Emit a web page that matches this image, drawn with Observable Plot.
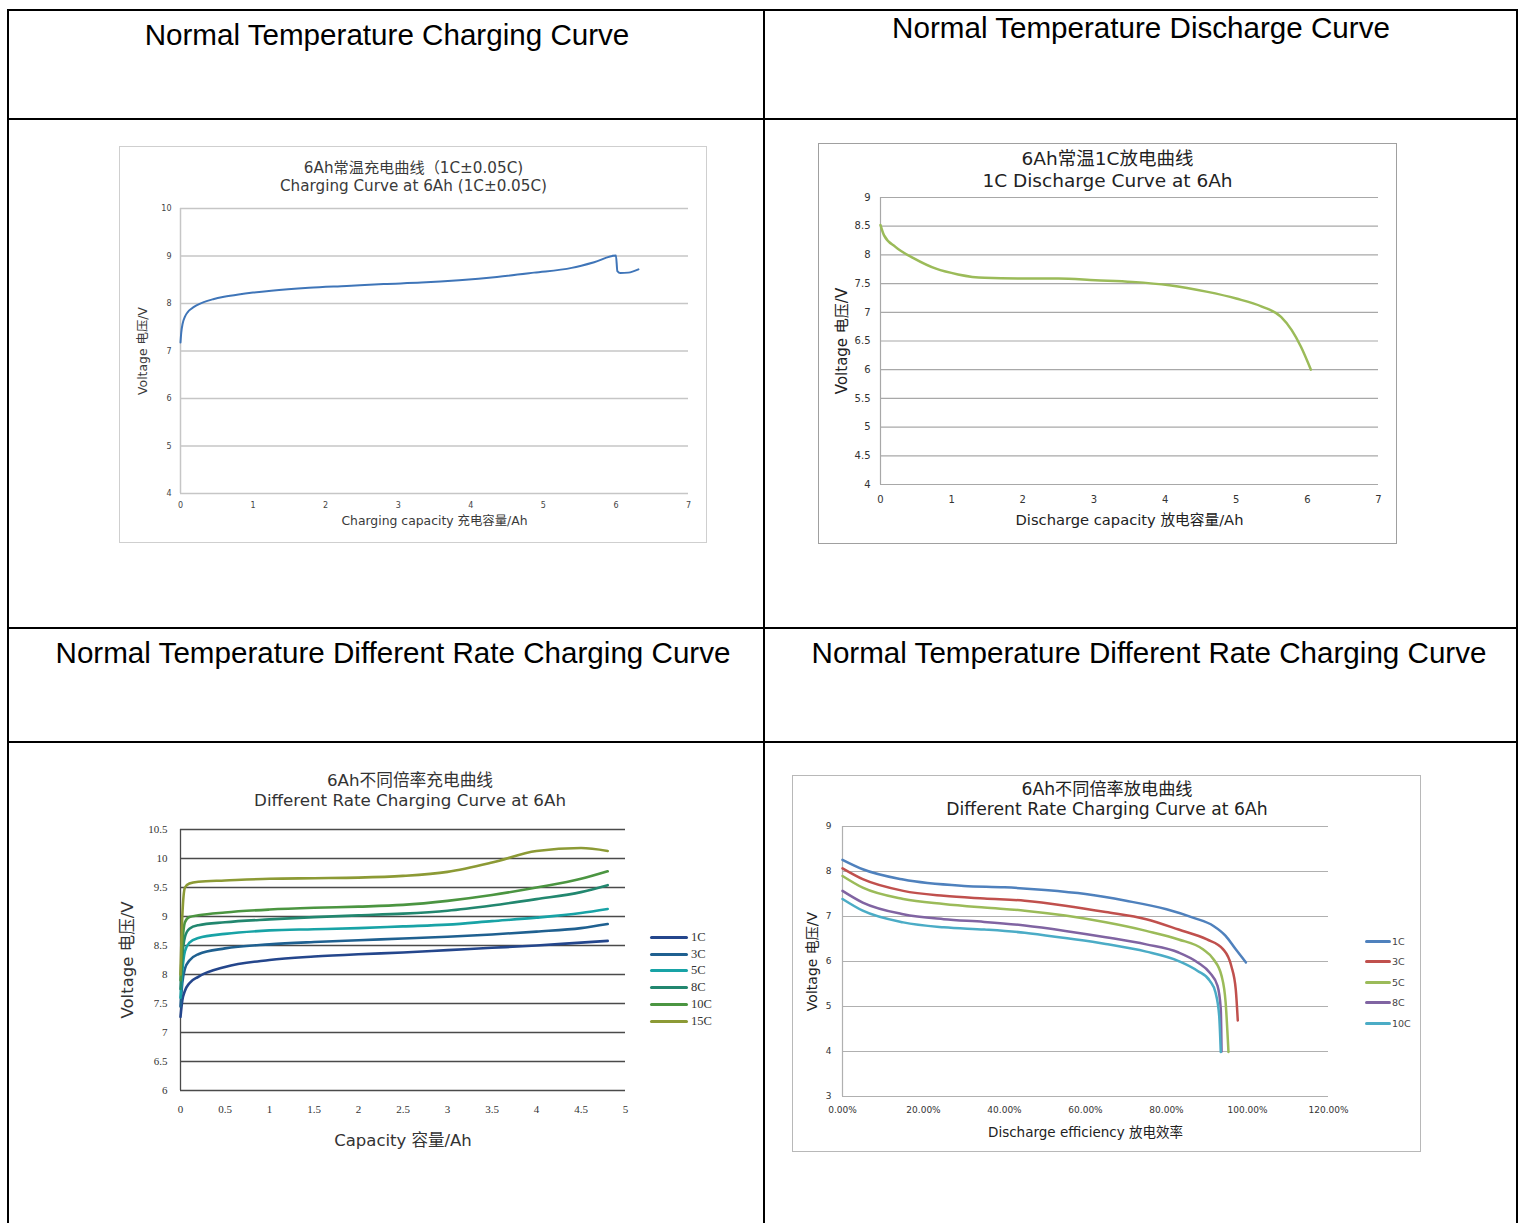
<!DOCTYPE html>
<html>
<head>
<meta charset="utf-8">
<script src="https://cdn.jsdelivr.net/npm/d3@7"></script>
<script src="https://cdn.jsdelivr.net/npm/@observablehq/plot@0.6"></script>
<style>
  body { margin: 0; background: #fff; }
  #page { position: relative; width: 1521px; height: 1223px; overflow: hidden; background: #fff;
          font-family: "Liberation Sans", Arial, sans-serif; }
  .bar { position: absolute; background: #000; }
  .cap { position: absolute; font-size: 29.6px; line-height: 34px; height: 34px; white-space: nowrap;
         text-align: center; color: #000; }
  .chart { position: absolute; }
  .chart svg { display: block; }
  .framed { outline: 1.5px solid #c8c8c8; }
  .legend { position: absolute; }
  .legend .item { display: flex; align-items: center; white-space: nowrap; }
  .legend .sw { display: inline-block; }
</style>
</head>
<body>
<div id="page">
  <div class="bar" style="left:7px;top:9px;width:1511px;height:2px"></div>
  <div class="bar" style="left:7px;top:118px;width:1511px;height:2px"></div>
  <div class="bar" style="left:7px;top:627px;width:1511px;height:2px"></div>
  <div class="bar" style="left:7px;top:741px;width:1511px;height:2px"></div>
  <div class="bar" style="left:7px;top:9px;width:2px;height:1214px"></div>
  <div class="bar" style="left:763px;top:9px;width:2px;height:1214px"></div>
  <div class="bar" style="left:1516px;top:9px;width:2px;height:1214px"></div>
</div>
<script>
// ---------- table captions ----------
const cellTitles = [
  "Normal Temperature Charging Curve",
  "Normal Temperature Discharge Curve",
  "Normal Temperature Different Rate Charging Curve",
  "Normal Temperature Different Rate Charging Curve"
];

// ---------- chart 1: charging curve ----------
const c1TitleCN = "6Ah常温充电曲线（1C±0.05C)";
const c1TitleEN = "Charging Curve at 6Ah (1C±0.05C)";
const c1XLabel = "Charging capacity 充电容量/Ah";
const c1YLabel = "Voltage 电压/V";
const c1XTicks = [0, 1, 2, 3, 4, 5, 6, 7];
const c1YTicks = [4, 5, 6, 7, 8, 9, 10];
const c1Cap = [0, 0.01, 0.03, 0.06, 0.1, 0.15, 0.22, 0.32, 0.45, 0.6, 0.8, 1.0, 1.25, 1.77, 2.29, 2.8, 3.32, 3.84, 4.36, 4.87, 5.39, 5.7, 6.0, 6.02, 6.06, 6.17, 6.31];
const c1Volt = [7.18, 7.38, 7.58, 7.72, 7.82, 7.89, 7.96, 8.03, 8.09, 8.14, 8.19, 8.23, 8.27, 8.33, 8.37, 8.41, 8.44, 8.49, 8.56, 8.65, 8.75, 8.87, 9.01, 8.68, 8.64, 8.65, 8.72];

// ---------- chart 2: 1C discharge ----------
const c2TitleCN = "6Ah常温1C放电曲线";
const c2TitleEN = "1C Discharge Curve at 6Ah";
const c2XLabel = "Discharge capacity 放电容量/Ah";
const c2YLabel = "Voltage 电压/V";
const c2XTicks = [0, 1, 2, 3, 4, 5, 6, 7];
const c2YTicks = [4, 4.5, 5, 5.5, 6, 6.5, 7, 7.5, 8, 8.5, 9];
const c2Cap = [0, 0.05, 0.21, 0.47, 0.78, 1.09, 1.46, 1.98, 2.5, 3.02, 3.54, 4.06, 4.58, 5.0, 5.36, 5.63, 5.78, 5.91, 6.05];
const c2Volt = [8.52, 8.34, 8.14, 7.94, 7.76, 7.66, 7.6, 7.59, 7.59, 7.56, 7.53, 7.47, 7.36, 7.24, 7.1, 6.92, 6.69, 6.4, 6.0];

// ---------- chart 3: different rate charging ----------
const c3TitleCN = "6Ah不同倍率充电曲线";
const c3TitleEN = "Different Rate Charging Curve at 6Ah";
const c3XLabel = "Capacity 容量/Ah";
const c3YLabel = "Voltage 电压/V";
const c3XTicks = [0, 0.5, 1, 1.5, 2, 2.5, 3, 3.5, 4, 4.5, 5];
const c3YTicks = [6, 6.5, 7, 7.5, 8, 8.5, 9, 9.5, 10, 10.5];
const c3Rates = ["1C", "3C", "5C", "8C", "10C", "15C"];
const c3Cap = [0, 0.02, 0.05, 0.1, 0.2, 0.5, 1, 1.5, 2, 2.5, 3, 3.5, 4, 4.5, 4.8];
const c3V1C  = [7.27, 7.55, 7.72, 7.85, 7.96, 8.13, 8.25, 8.31, 8.35, 8.38, 8.42, 8.46, 8.5, 8.55, 8.58];
const c3V3C  = [7.45, 7.85, 8.1, 8.24, 8.35, 8.45, 8.52, 8.56, 8.59, 8.62, 8.65, 8.69, 8.74, 8.8, 8.87];
const c3V5C  = [7.6, 8.05, 8.4, 8.55, 8.63, 8.7, 8.76, 8.78, 8.8, 8.83, 8.86, 8.92, 8.98, 9.06, 9.13];
const c3V8C  = [7.75, 8.3, 8.65, 8.79, 8.85, 8.9, 8.95, 8.99, 9.02, 9.05, 9.1, 9.19, 9.3, 9.42, 9.54];
const c3V10C = [7.9, 8.5, 8.9, 8.99, 9.02, 9.07, 9.12, 9.15, 9.17, 9.2, 9.27, 9.37, 9.5, 9.65, 9.78];
const c3V15C = [8.0, 9.0, 9.5, 9.57, 9.6, 9.62, 9.65, 9.66, 9.67, 9.7, 9.77, 9.93, 10.13, 10.18, 10.13];
const c3Colors = ["#24468c", "#1f6090", "#18a3a6", "#22876f", "#4b9541", "#8c9a35"];

// ---------- chart 4: different rate discharge ----------
const c4TitleCN = "6Ah不同倍率放电曲线";
const c4TitleEN = "Different Rate Charging Curve at 6Ah";
const c4XLabel = "Discharge efficiency 放电效率";
const c4YLabel = "Voltage 电压/V";
const c4XTicks = [0, 20, 40, 60, 80, 100, 120];
const c4YTicks = [3, 4, 5, 6, 7, 8, 9];
const c4Rates = ["1C", "3C", "5C", "8C", "10C"];
const c4E1C  = [0, 5, 15, 30, 40, 50, 60, 70, 80, 86.7, 91.6, 94.6, 97.1, 99.6];
const c4V1C  = [8.26, 8.05, 7.82, 7.68, 7.65, 7.59, 7.5, 7.35, 7.16, 6.97, 6.79, 6.57, 6.27, 5.98];
const c4E3C  = [0, 5, 15, 25, 35, 45, 55, 65, 75, 83, 90, 94, 96, 97.1, 97.6];
const c4V3C  = [8.07, 7.83, 7.57, 7.46, 7.4, 7.35, 7.24, 7.1, 6.94, 6.71, 6.49, 6.27, 5.9, 5.38, 4.69];
const c4E5C  = [0, 5, 15, 25, 35, 45, 55, 65, 75, 83, 89, 91.6, 93.6, 94.6, 95.3];
const c4V5C  = [7.9, 7.64, 7.39, 7.28, 7.2, 7.13, 7.02, 6.87, 6.68, 6.49, 6.27, 6.05, 5.68, 5.09, 3.99];
const c4E8C  = [0, 5, 15, 25, 35, 45, 55, 65, 75, 83, 87.7, 90.7, 92.6, 93.4, 93.6];
const c4V8C  = [7.57, 7.31, 7.05, 6.94, 6.88, 6.8, 6.68, 6.54, 6.38, 6.2, 5.98, 5.75, 5.46, 4.95, 4.0];
const c4E10C = [0, 5, 15, 25, 35, 45, 55, 65, 75, 83, 87.7, 90.7, 92.1, 93.0, 93.4];
const c4V10C = [7.39, 7.13, 6.87, 6.76, 6.71, 6.64, 6.52, 6.39, 6.22, 6.01, 5.79, 5.57, 5.31, 4.8, 3.99];
const c4Colors = ["#4f81bd", "#c0504d", "#9bbb59", "#8064a2", "#4bacc6"];

// ---------- helpers ----------
const page = document.getElementById("page");
const SANS = '"DejaVu Sans","Noto Sans CJK SC",sans-serif';
const plain = d => String(d);
const zip = (xs, ys) => xs.map((x, i) => ({x, y: ys[i]}));
const tidy = (names, xsList, ysList) => names.flatMap((n, k) => xsList[k].map((x, i) => ({s: n, x, y: ysList[k][i]})));

function caption(text, left, width, top) {
  const d = document.createElement("div");
  d.className = "cap";
  d.style.left = left + "px"; d.style.width = width + "px"; d.style.top = top + "px";
  d.textContent = text;
  page.append(d);
}
function place(el, left, top, framed, outlineColor) {
  const d = document.createElement("div");
  d.className = "chart" + (framed ? " framed" : "");
  if (outlineColor) d.style.outlineColor = outlineColor;
  d.style.left = left + "px"; d.style.top = top + "px";
  d.append(el);
  page.append(d);
}
function legend(names, colors, left, top, step, swW, swH, font, fontSize, color, gap) {
  const d = document.createElement("div");
  d.className = "legend";
  d.style.left = left + "px"; d.style.top = top + "px";
  names.forEach((n, i) => {
    const it = document.createElement("div");
    it.className = "item";
    it.style.height = step + "px";
    const sw = document.createElement("span");
    sw.className = "sw";
    sw.style.width = swW + "px"; sw.style.height = swH + "px"; sw.style.background = colors[i];
    sw.style.borderRadius = (swH / 2) + "px";
    const t = document.createElement("span");
    t.textContent = n;
    t.style.fontFamily = font; t.style.fontSize = fontSize + "px"; t.style.color = color;
    t.style.marginLeft = gap + "px";
    it.append(sw, t);
    d.append(it);
  });
  page.append(d);
}
function titleMarks(cn, en, dx, dy1, dy2, size, xl, xlDy, xlSize, yl, ylDx, ylSize, fill) {
  return [
    Plot.text([cn], {text: d => d, frameAnchor: "top", dx, dy: dy1, fontSize: size, fill, fontFamily: SANS, textAnchor: "middle", lineAnchor: "middle"}),
    Plot.text([en], {text: d => d, frameAnchor: "top", dx, dy: dy2, fontSize: size, fill, fontFamily: SANS, textAnchor: "middle", lineAnchor: "middle"}),
    Plot.text([xl], {text: d => d, frameAnchor: "bottom", dy: xlDy, fontSize: xlSize, fill, fontFamily: SANS, textAnchor: "middle", lineAnchor: "middle"}),
    Plot.text([yl], {text: d => d, frameAnchor: "left", dx: ylDx, rotate: -90, fontSize: ylSize, fill, fontFamily: SANS, textAnchor: "middle", lineAnchor: "middle"})
  ];
}

// ---------- captions ----------
caption(cellTitles[0], 9, 756, 18);
caption(cellTitles[1], 765, 752, 11);
caption(cellTitles[2], 15, 756, 636);
caption(cellTitles[3], 773, 752, 636);

// ---------- chart 1 ----------
const chart1 = Plot.plot({
  width: 586, height: 395,
  marginLeft: 60, marginRight: 18, marginTop: 61, marginBottom: 49,
  style: {fontFamily: SANS, fontSize: "8px", color: "#444", background: "#fff", overflow: "visible"},
  x: {domain: [0, 7], ticks: c1XTicks, tickSize: 0, tickPadding: 9, label: null, tickFormat: plain},
  y: {domain: [4, 10], ticks: c1YTicks, tickSize: 0, tickPadding: 9, label: null, tickFormat: plain},
  marks: [
    Plot.ruleY(c1YTicks, {stroke: "#c6c6c6", strokeWidth: 1.5}),
    Plot.ruleX([0], {stroke: "#c6c6c6", strokeWidth: 1.5}),
    Plot.line(zip(c1Cap, c1Volt), {x: "x", y: "y", stroke: "#3f75b8", strokeWidth: 2, curve: "monotone-x"}),
    ...titleMarks(c1TitleCN, c1TitleEN, -21, -40, -22, 15.2, c1XLabel, 28, 12.4, c1YLabel, -37, 12.4, "#3a3a3a")
  ]
});
place(chart1, 120, 147, true, "#cfcfcf");

// ---------- chart 2 ----------
const chart2 = Plot.plot({
  width: 577, height: 399,
  marginLeft: 61, marginRight: 18, marginTop: 53, marginBottom: 59,
  style: {fontFamily: SANS, fontSize: "10px", color: "#333", background: "#fff", overflow: "visible"},
  x: {domain: [0, 7], ticks: c2XTicks, tickSize: 0, tickPadding: 11, label: null, tickFormat: plain},
  y: {domain: [4, 9], ticks: c2YTicks, tickSize: 0, tickPadding: 10, label: null, tickFormat: plain},
  marks: [
    Plot.ruleY(c2YTicks, {stroke: "#a8a8a8", strokeWidth: 1.2}),
    Plot.ruleX([0], {stroke: "#a8a8a8", strokeWidth: 1.2}),
    Plot.line(zip(c2Cap, c2Volt), {x: "x", y: "y", stroke: "#9bbb59", strokeWidth: 2.5, curve: "monotone-x"}),
    ...titleMarks(c2TitleCN, c2TitleEN, -22, -38, -16, 18.5, c2XLabel, 36, 14.7, c2YLabel, -38, 15, "#222")
  ]
});
place(chart2, 819, 144, true, "#a0a0a0");

// ---------- chart 3 ----------
const c3Data = tidy(c3Rates, c3Rates.map(() => c3Cap), [c3V1C, c3V3C, c3V5C, c3V8C, c3V10C, c3V15C]);
const chart3 = Plot.plot({
  width: 635, height: 395,
  marginLeft: 80, marginRight: 110, marginTop: 64, marginBottom: 70,
  style: {fontFamily: '"Liberation Serif","DejaVu Serif",serif', fontSize: "11px", color: "#333", background: "#fff", overflow: "visible"},
  x: {domain: [0, 5], ticks: c3XTicks, tickSize: 0, tickPadding: 15, label: null, tickFormat: plain},
  y: {domain: [6, 10.5], ticks: c3YTicks, tickSize: 0, tickPadding: 13, label: null, tickFormat: plain},
  color: {domain: c3Rates, range: c3Colors},
  marks: [
    Plot.ruleY(c3YTicks, {stroke: "#4a4a4a", strokeWidth: 1.3}),
    Plot.ruleX([0], {stroke: "#4a4a4a", strokeWidth: 1.3}),
    Plot.line(c3Data, {x: "x", y: "y", z: "s", stroke: "s", strokeWidth: 2.6, curve: "monotone-x"}),
    ...titleMarks(c3TitleCN, c3TitleEN, 7, -49, -29, 16.7, c3XLabel, 50, 16.5, c3YLabel, -53, 16.5, "#333")
  ]
});
place(chart3, 100, 765, false);
legend(c3Rates, c3Colors, 650, 929, 16.8, 38, 3, '"Liberation Serif","DejaVu Serif",serif', 12.5, "#333", 3);

// ---------- chart 4 ----------
const c4Data = tidy(c4Rates, [c4E1C, c4E3C, c4E5C, c4E8C, c4E10C], [c4V1C, c4V3C, c4V5C, c4V8C, c4V10C]);
const chart4 = Plot.plot({
  width: 627, height: 375,
  marginLeft: 49, marginRight: 92, marginTop: 50, marginBottom: 55,
  style: {fontFamily: SANS, fontSize: "9px", color: "#333", background: "#fff", overflow: "visible"},
  x: {domain: [0, 120], ticks: c4XTicks, tickSize: 0, tickPadding: 10, label: null, tickFormat: d => d.toFixed(2) + "%"},
  y: {domain: [3, 9], ticks: c4YTicks, tickSize: 0, tickPadding: 11, label: null, tickFormat: plain},
  color: {domain: c4Rates, range: c4Colors},
  marks: [
    Plot.ruleY(c4YTicks, {stroke: "#b0b0b0", strokeWidth: 1.2}),
    Plot.ruleX([0], {stroke: "#b0b0b0", strokeWidth: 1.2}),
    Plot.line(c4Data, {x: "x", y: "y", z: "s", stroke: "s", strokeWidth: 2.5, curve: "monotone-x"}),
    ...titleMarks(c4TitleCN, c4TitleEN, 21.5, -37, -17, 17.2, c4XLabel, 36, 13.5, c4YLabel, -30, 14, "#222")
  ]
});
place(chart4, 793, 776, true, "#b8b8b8");
legend(c4Rates, c4Colors, 1365, 931, 20.5, 26, 3, SANS, 9.5, "#444", 1);
</script>
</body>
</html>
